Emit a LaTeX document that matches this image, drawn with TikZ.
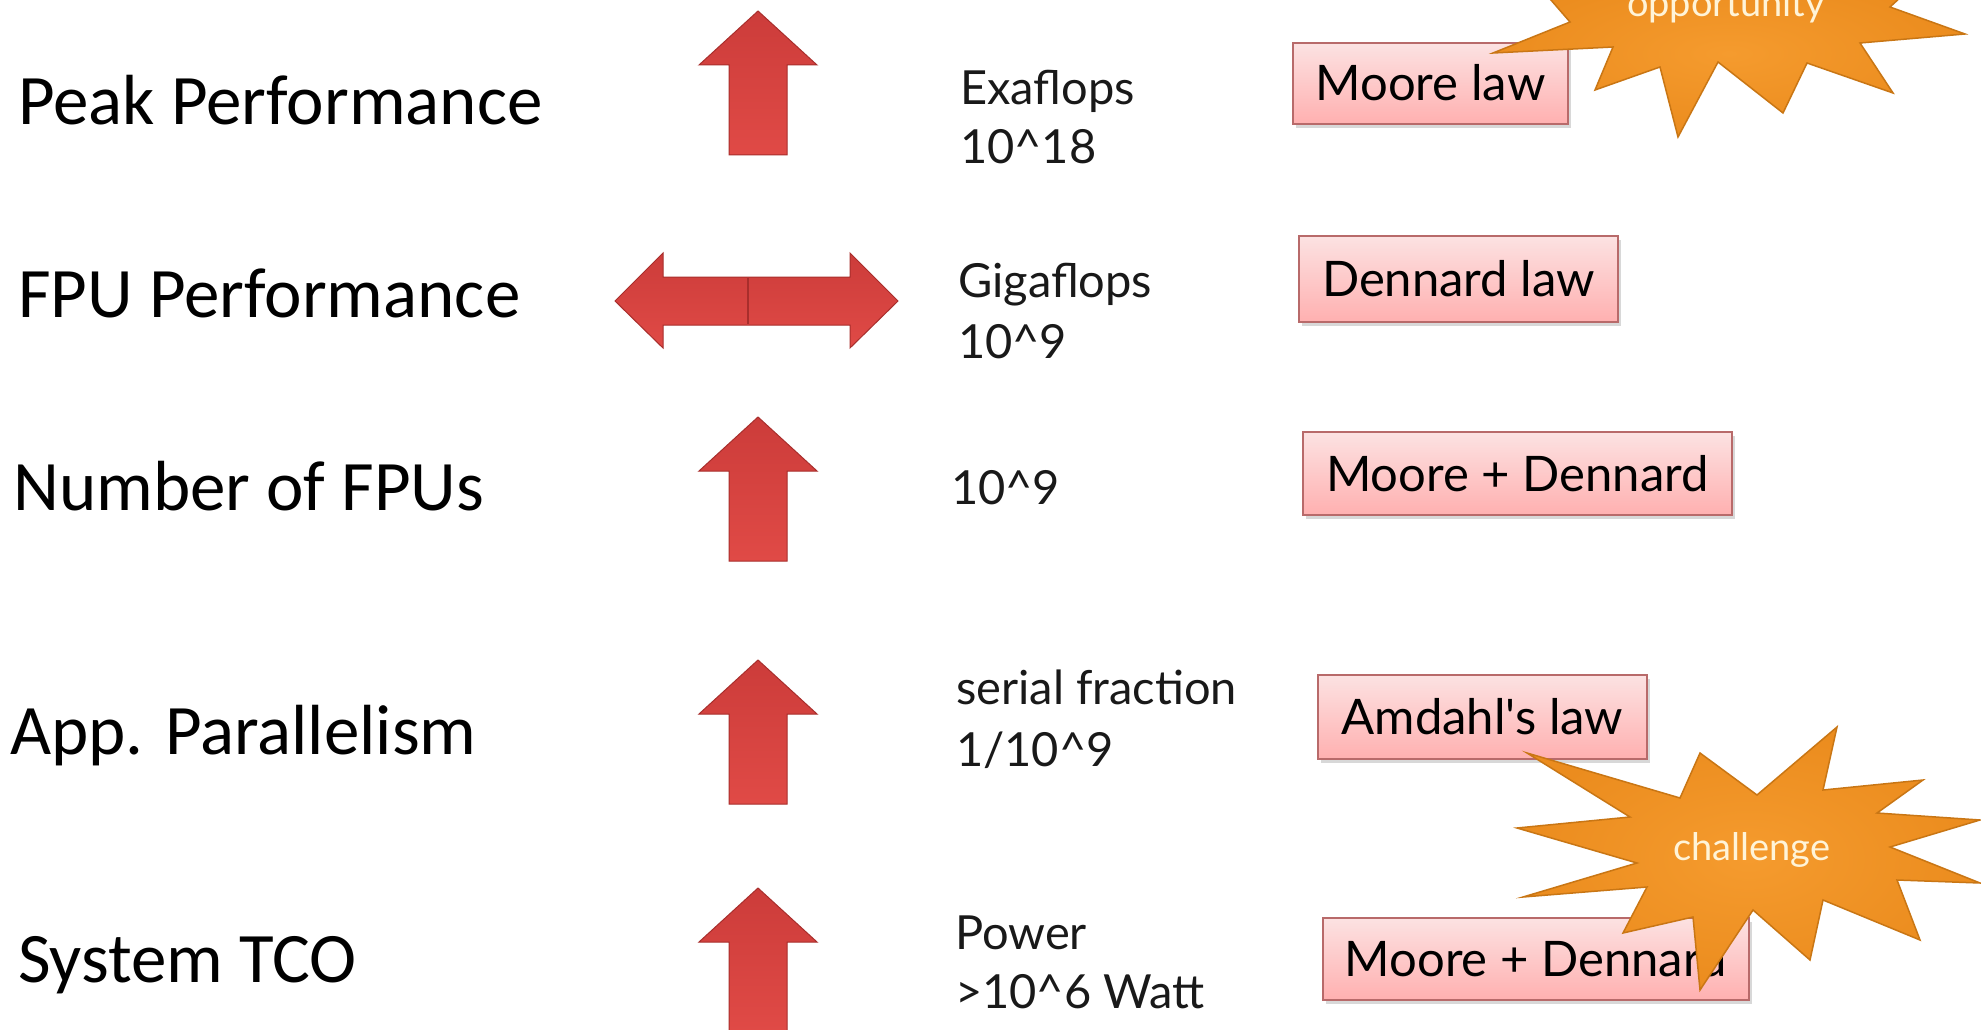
\documentclass[tikz,border=0pt]{standalone}
\usepackage{fontspec}
\usetikzlibrary{shadows}
\newfontfamily\labelfont{Carlito}
\newfontfamily\bodyfont{Lato}

\definecolor{arrowtop}{HTML}{CC3C3A}
\definecolor{arrowbot}{HTML}{E04A46}
\definecolor{arrowedge}{HTML}{A82E2C}
\definecolor{boxtop}{HTML}{FCE2E2}
\definecolor{boxbot}{HTML}{FFB0B0}
\definecolor{boxedge}{HTML}{B86A6A}
\definecolor{burstin}{HTML}{F59B2E}
\definecolor{burstout}{HTML}{EB8C1E}
\definecolor{burstedge}{HTML}{C97614}
\definecolor{bursttext}{HTML}{FFF4D8}

\tikzset{
  rowlabel/.style={anchor=base west, inner sep=0pt, font=\labelfont\fontsize{71}{84}\selectfont},
  figure/.style={anchor=base west, inner sep=0pt, font=\bodyfont\fontsize{47}{56}\selectfont, text=black!90},
  lawbox/.style={draw=boxedge, line width=1.2pt, top color=boxtop, bottom color=boxbot,
    inner sep=0pt, text height=35pt, text depth=0pt,
    font=\bodyfont\fontsize{49}{58}\selectfont,
    drop shadow={shadow xshift=3pt, shadow yshift=-4pt, fill=black!30, opacity=0.5}},
  blockarrow/.style={draw=arrowedge, line width=1pt, top color=arrowtop, bottom color=arrowbot},
  burst/.style={draw=burstedge, line width=1.5pt, inner color=burstin, outer color=burstout},
  bursttxt/.style={inner sep=0pt, text=bursttext, font=\bodyfont\fontsize{38}{44}\selectfont}
}

% upward block arrow: #1 = centre x, #2 = tip y
\newcommand{\blockup}[2]{%
  \path[blockarrow] (#1,#2) -- ++(59,54) -- ++(-30,0) -- ++(0,90) -- ++(-58,0)
    -- ++(0,-90) -- ++(-30,0) -- cycle;}

\begin{document}
\begin{tikzpicture}[x=1pt, y=-1pt]
\useasboundingbox (0,0) rectangle (1981,1030);
\fill[white] (0,0) rectangle (1981,1030);

% row labels
\node[rowlabel] (peak) at (18,125) {Peak Performance};
\node[rowlabel] (fpu)  at (18,317) {FPU Performance};
\node[rowlabel] (nfpu) at (13,510) {Number of FPUs};
\node[rowlabel] (app)  at (10,754) {App. Parallelism};
\node[rowlabel] (tco)  at (18,982) {System TCO};

% trend arrows
\blockup{758}{11}
\path[blockarrow] (615,301) -- (663,253) -- (663,277) -- (850,277) -- (850,253)
  -- (898,301) -- (850,348) -- (850,325) -- (663,325) -- (663,348) -- cycle;
\draw[arrowedge, line width=2pt] (748,278) -- (748,324);
\blockup{758}{417}
\blockup{758}{660}
\blockup{758}{888}

% magnitudes
\node[figure] (exa)  at (960,105) {Exaflops};
\node[figure] (exan) at (960,164) {10\textasciicircum18};
\node[figure] (giga) at (958,297) {Gigaflops};
\node[figure] (gign) at (958,358) {10\textasciicircum9};
\node[figure] (nfn)  at (951,504) {10\textasciicircum9};
\node[figure] (ser)  at (956,704) {serial fraction};
\node[figure] (sern) at (956,766) {1/10\textasciicircum9};
\node[figure] (pow)  at (955,949) {Power};
\node[figure] (pown) at (955,1008) {>10\textasciicircum6 Watt};

% governing laws
\node[lawbox, minimum width=275pt, minimum height=81pt] (law1) at (1430.5,83.5) {Moore law};
\node[lawbox, minimum width=319pt, minimum height=86pt] (law2) at (1458.5,279) {Dennard law};
\node[lawbox, minimum width=429pt, minimum height=83pt] (law3) at (1517.5,473.5) {Moore + Dennard};
\node[lawbox, minimum width=329pt, minimum height=84pt] (law4) at (1482.5,717) {Amdahl's law};
\node[lawbox, minimum width=426pt, minimum height=82pt] (law5) at (1536,959) {Moore + Dennard};

% opportunity burst
\path[burst] (1525,-30) -- (1570,22) -- (1493,53) -- (1613,47) -- (1595,90) -- (1660,67)
  -- (1678,137) -- (1718,62) -- (1783,113) -- (1807,63) -- (1893,93) -- (1860,43)
  -- (1965,34) -- (1890,7) -- (1930,-30) -- cycle;
\node[bursttxt, anchor=base] (opp) at (1726,17) {opportunity};

% challenge burst
\path[burst] (1517,828) -- (1630,817) -- (1527,753) -- (1680,798) -- (1700,753)
  -- (1757,795) -- (1837,727) -- (1823,790) -- (1923,780) -- (1877,813)
  -- (1980,820) -- (1890,847) -- (1980,883) -- (1897,880) -- (1920,940)
  -- (1823,900) -- (1810,960) -- (1753,910) -- (1700,990) -- (1693,917)
  -- (1623,933) -- (1647,887) -- (1523,897) -- (1637,863) -- cycle;
\node[bursttxt, anchor=base] (chal) at (1752,860) {challenge};
\end{tikzpicture}
\end{document}
